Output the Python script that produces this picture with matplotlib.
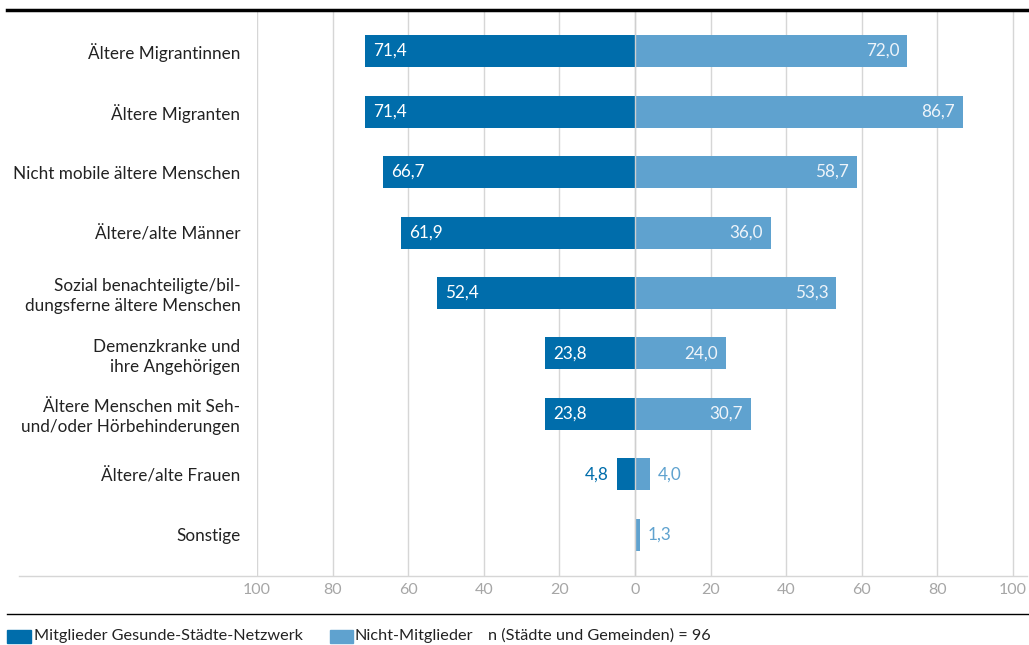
import matplotlib.pyplot as plt
import numpy as np
from matplotlib.lines import Line2D
from matplotlib.patches import Rectangle

plt.rcParams['font.family'] = ['Lato', 'DejaVu Sans']

categories = ["Ältere Migrantinnen", "Ältere Migranten", "Nicht mobile ältere Menschen",
              "Ältere/alte Männer", "Sozial benachteiligte/bil-\ndungsferne ältere Menschen",
              "Demenzkranke und\nihre Angehörigen", "Ältere Menschen mit Seh-\nund/oder Hörbehinderungen",
              "Ältere/alte Frauen", "Sonstige"]
mitglieder = [71.4, 71.4, 66.7, 61.9, 52.4, 23.8, 23.8, 4.8, 0.0]
nicht_mitglieder = [72.0, 86.7, 58.7, 36.0, 53.3, 24.0, 30.7, 4.0, 1.3]
ticks = [-100, -80, -60, -40, -20, 0, 20, 40, 60, 80, 100]
tick_labels = ["100", "80", "60", "40", "20", "0", "20", "40", "60", "80", "100"]

dark = "#006DAB"
light = "#5FA2CF"
W, H = 1029, 645
fs = 12.3

fig = plt.figure(figsize=(W / 100, H / 100), dpi=100)
# axes: x=-100 at px 257, x=100 at px 1013
x0, x1 = 257, 1013
px_per = (x1 - x0) / 200
right_px = 1027
ax = fig.add_axes([x0 / W, 1 - 576 / H, (right_px - x0) / W, (576 - 10) / H])
ax.set_xlim(-100, 100 + (right_px - x1) / px_per)
ax.set_ylim(8.68, -0.68)

for t in ticks:
    ax.axvline(t, color="#d6d6d6", lw=1, zorder=0)

y = np.arange(len(categories))
h = 0.53
ax.barh(y, [-v for v in mitglieder], height=h, color=dark, zorder=2)
ax.barh(y, nicht_mitglieder, height=h, color=light, zorder=2)
ax.axvline(0, color="#cfcfcf", lw=1, zorder=3)

off = 8 / px_per
for i, (m, n) in enumerate(zip(mitglieder, nicht_mitglieder)):
    if m > 0:
        s = f"{m:.1f}".replace(".", ",")
        if m > 15:
            ax.text(-m + off, i, s, ha="left", va="center", color="white", fontsize=fs, zorder=4)
        else:
            ax.text(-m - off, i, s, ha="right", va="center", color=dark, fontsize=fs, zorder=4)
    s = f"{n:.1f}".replace(".", ",")
    if n > 15:
        ax.text(n - off, i, s, ha="right", va="center", color="#eef4fa", fontsize=fs, zorder=4)
    else:
        ax.text(n + off, i, s, ha="left", va="center", color=light, fontsize=fs, zorder=4)

ax.set_yticks(y)
ax.set_yticklabels(categories, fontsize=fs, color="#222222", linespacing=1.3)
ax.tick_params(axis="y", length=0, pad=12)
ax.set_xticks(ticks)
ax.set_xticklabels(tick_labels, fontsize=11.5, color="#a6a6a6")
ax.tick_params(axis="x", length=0, pad=5)
for sp in ax.spines.values():
    sp.set_visible(False)

# frame lines
fig.add_artist(Line2D([7 / W, 1], [1 - 10 / H, 1 - 10 / H], color="black", lw=2.5))
fig.add_artist(Line2D([19 / W, right_px / W], [1 - 576 / H, 1 - 576 / H], color="#d6d6d6", lw=1))
fig.add_artist(Line2D([7 / W, 1], [1 - 614 / H, 1 - 614 / H], color="black", lw=1))

# legend
ly = 1 - 636 / H
fig.add_artist(Rectangle((7 / W, 1 - 643 / H), 24 / W, 13 / H, color=dark))
fig.text(34 / W, ly, "Mitglieder Gesunde-Städte-Netzwerk", fontsize=11.7, color="#222222", va="center")
fig.add_artist(Rectangle((330 / W, 1 - 643 / H), 23 / W, 13 / H, color=light))
fig.text(355 / W, ly, "Nicht-Mitglieder", fontsize=11.7, color="#222222", va="center")
fig.text(488 / W, ly, "n (Städte und Gemeinden) = 96", fontsize=11.7, color="#222222", va="center")

fig.savefig("out.png", dpi=100)
